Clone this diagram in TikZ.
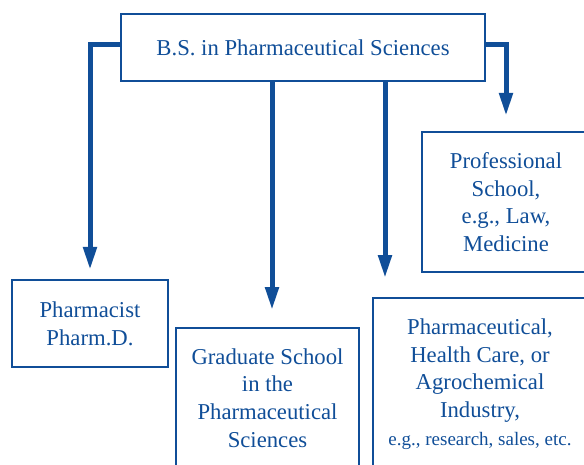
\documentclass[tikz,border=0pt]{standalone}
\usepackage{fontspec}
\setmainfont{Liberation Serif}
\usetikzlibrary{arrows.meta}
\usetikzlibrary{calc}
\definecolor{pharmblue}{RGB}{16,78,152}

\begin{document}
\begin{tikzpicture}[x=1pt, y=-1pt,
    box/.style={draw=pharmblue, line width=2.2pt, text=pharmblue,
      align=center, inner sep=0pt,
      font=\fontsize{22.7}{27.7}\selectfont},
    conn/.style={draw=pharmblue, line width=5pt,
      -{Triangle[length=23pt,width=13pt]}}]

    \useasboundingbox (0,0) rectangle (584,464);

    % boxes
    \node[box, minimum width=364pt, minimum height=67pt] (bs) at (303,47.5)
      {B.S. in Pharmaceutical Sciences};
    \node[box, minimum width=156pt, minimum height=87pt] (pharm) at (90,323.5)
      {Pharmacist\\Pharm.D.};
    \node[box, minimum width=183pt, minimum height=140pt] (grad) at (267.5,398)
      {Graduate School\\in the\\Pharmaceutical\\Sciences};
    \node[box, minimum width=168pt, minimum height=140pt] (prof) at (506,202)
      {Professional\\School,\\e.g., Law,\\Medicine};
    \node[box, minimum width=214pt, minimum height=172pt] (ind) at (480,384)
      {Pharmaceutical,\\Health Care, or\\Agrochemical\\Industry,\\
       {\fontsize{19}{24}\selectfont e.g., research, sales, etc.}};

    % arrow tips
    \coordinate (gtip) at (272,310);
    \coordinate (itip) at (385,278);

    % connectors
    \draw[conn] ([yshift=3pt]bs.west) -| ([yshift=9pt]pharm.north);
    \draw[conn] ([yshift=3pt]bs.east) -| ([yshift=15pt]prof.north);
    \draw[conn] (bs.south -| gtip) -- (gtip);
    \draw[conn] (bs.south -| itip) -- (itip);

  \end{tikzpicture}
\end{document}
